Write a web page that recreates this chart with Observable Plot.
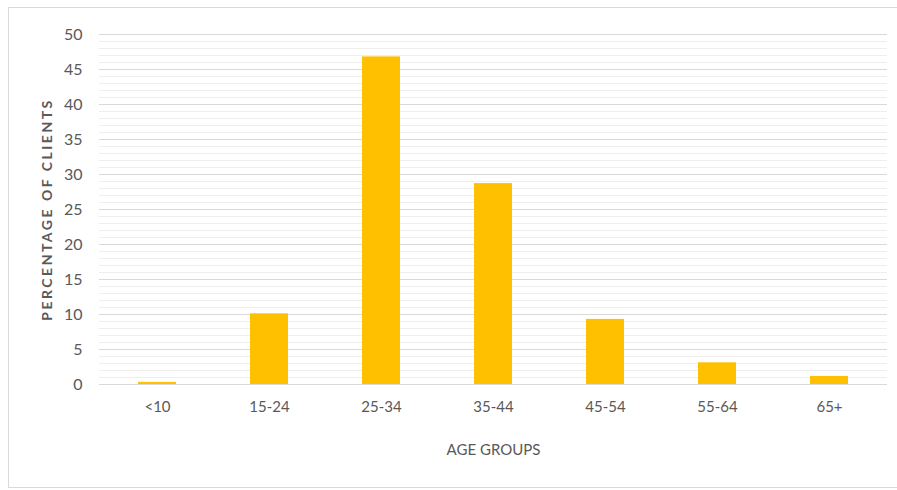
<!DOCTYPE html>
<html>
<head>
<meta charset="utf-8">
<script src="https://cdn.jsdelivr.net/npm/d3@7"></script>
<script src="https://cdn.jsdelivr.net/npm/@observablehq/plot@0.6"></script>
<style>
  html, body { margin: 0; padding: 0; background: #fff; }
  #wrap { position: relative; width: 897px; height: 490px; overflow: hidden; }
  #frame { position: absolute; left: 8px; top: 7px; width: 890px; height: 479px; border: 1px solid #d9d9d9; pointer-events: none; }
  svg g[aria-label="y-axis label"] text { letter-spacing: 2.5px; font-weight: 700; }
</style>
</head>
<body>
<div id="wrap"><div id="frame"></div></div>
<script>
const categories = ["<10", "15-24", "25-34", "35-44", "45-54", "55-64", "65+"];
const values = [0.3, 10.1, 46.8, 28.7, 9.3, 3.1, 1.15];
const yTicks = [0, 5, 10, 15, 20, 25, 30, 35, 40, 45, 50];
const minorTicks = d3.range(0, 51, 1);

const data = categories.map((c, i) => ({group: c, pct: values[i]}));

const chart = Plot.plot({
  width: 897,
  height: 490,
  marginTop: 34,
  marginBottom: 106,
  marginLeft: 99,
  marginRight: 10,
  style: {fontFamily: "Lato, 'Open Sans', sans-serif", background: "transparent", color: "#595959"},
  x: {domain: categories, paddingInner: 0.66, paddingOuter: 0.33, align: 0.5},
  y: {domain: [0, 50]},
  marks: [
    Plot.gridY(minorTicks, {stroke: "#eeeeee", strokeOpacity: 1}),
    Plot.gridY(yTicks, {stroke: "#d9d9d9", strokeOpacity: 1}),
    Plot.barY(data, {x: "group", y: "pct", fill: "#FFC000"}),
    Plot.axisY(yTicks, {tickSize: 0, tickPadding: 17, fontSize: 16, fill: "#595959",
      label: "PERCENTAGE OF CLIENTS", labelAnchor: "center", labelArrow: "none", labelOffset: 57}),
    Plot.axisX({tickSize: 0, tickPadding: 17, fontSize: 15, fill: "#595959",
      label: "AGE GROUPS", labelAnchor: "center", labelArrow: "none", labelOffset: 70})
  ]
});
chart.querySelectorAll('g[aria-label="y-axis label"] text').forEach(t => t.setAttribute("font-size", 14));
chart.querySelectorAll('g[aria-label="x-axis label"] text').forEach(t => t.setAttribute("font-size", 15));
document.getElementById("wrap").prepend(chart);
</script>
</body>
</html>
